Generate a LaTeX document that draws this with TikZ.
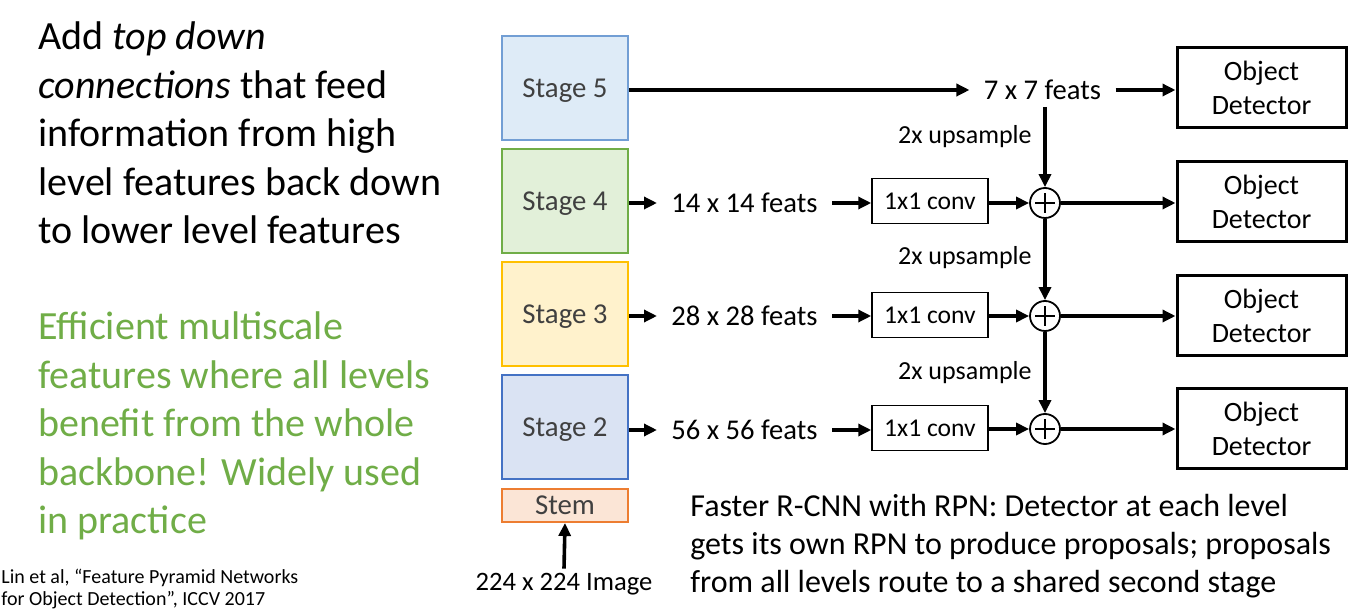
\documentclass[tikz,border=0pt]{standalone}
\usepackage{fontspec}
\setmainfont{Carlito}
\usepackage{tikz}
\usetikzlibrary{arrows.meta}
\definecolor{fpnfivefill}{RGB}{222,235,247}
\definecolor{fpnfiveline}{RGB}{114,158,212}
\definecolor{fpnfourfill}{RGB}{226,240,217}
\definecolor{fpnfourline}{RGB}{112,173,71}
\definecolor{fpnthreefill}{RGB}{255,242,204}
\definecolor{fpnthreeline}{RGB}{255,192,0}
\definecolor{fpntwofill}{RGB}{218,227,243}
\definecolor{fpntwoline}{RGB}{68,114,196}
\definecolor{fpnstemfill}{RGB}{251,229,214}
\definecolor{fpnstemline}{RGB}{237,125,49}
\definecolor{fpngray}{RGB}{64,64,64}
\definecolor{fpngreen}{RGB}{112,173,71}

\begin{document}
\begin{tikzpicture}[x=0.5pt,y=-0.5pt,>={Triangle[length=6.5pt,width=6pt]},
    stagebox/.style={draw,line width=1pt,minimum width=63pt,minimum height=52pt,inner sep=0pt,text depth=0pt,text=fpngray,font=\fontsize{14.4}{17}\selectfont},
    detbox/.style={draw,line width=1.5pt,minimum width=84.5pt,minimum height=40pt,inner sep=0pt,align=center,font=\fontsize{14}{17}\selectfont},
    convbox/.style={draw,line width=0.75pt,minimum width=58pt,minimum height=22.5pt,inner sep=0pt,font=\fontsize{12.8}{15}\selectfont},
    sumnode/.style={circle,draw,line width=0.9pt,minimum size=15pt,inner sep=0pt,
        path picture={\draw[line width=1.4pt] (path picture bounding box.center) ++(-5pt,0) -- ++(10pt,0);
                      \draw[line width=1.4pt] (path picture bounding box.center) ++(0,-5pt) -- ++(0,10pt);}},
    feat/.style={inner xsep=7pt,font=\fontsize{14.3}{17}\selectfont},
    lbl/.style={inner sep=0pt,font=\fontsize{13}{15}\selectfont},
    flow/.style={->,line width=1.8pt}]
    \useasboundingbox (0,0) rectangle (1366,614);

    % Notes on the left
    \node[anchor=west,align=left,inner sep=0pt,font=\fontsize{20}{24.25}\selectfont] (intro) at (38,133)
        {Add \textit{top down}\\\textit{connections} that feed\\information from high\\level features back down\\to lower level features};
    \node[anchor=west,align=left,inner sep=0pt,text=fpngreen,font=\fontsize{20}{24.25}\selectfont] (gain) at (38,426)
        {Efficient multiscale\\features where all levels\\benefit from the whole\\backbone! Widely used\\in practice};
    \node[anchor=west,align=left,inner sep=0pt,font=\fontsize{10}{11}\selectfont] (cite) at (1,589)
        {Lin et al, “Feature Pyramid Networks\\for Object Detection”, ICCV 2017};

    % Backbone
    \node[stagebox,fill=fpnfivefill,draw=fpnfiveline] (s5) at (565,88) {Stage 5};
    \node[stagebox,fill=fpnfourfill,draw=fpnfourline] (s4) at (565,201) {Stage 4};
    \node[stagebox,fill=fpnthreefill,draw=fpnthreeline] (s3) at (565,314) {Stage 3};
    \node[stagebox,fill=fpntwofill,draw=fpntwoline] (s2) at (565,427) {Stage 2};
    \node[stagebox,fill=fpnstemfill,draw=fpnstemline,minimum height=16.5pt] (stem) at (565,505.5) {Stem};
    \node[lbl,font=\fontsize{13.3}{16}\selectfont] (img) at (564,584) {224 x 224 Image};
    \draw[flow] (img.north) ++(0,-4) -- (stem.south);

    % Features
    \node[feat] (f5) at (1042.5,90) {7 x 7 feats};
    \node[feat] (f4) at (744.5,203) {14 x 14 feats};
    \node[feat] (f3) at (744.5,316) {28 x 28 feats};
    \node[feat] (f2) at (744.5,430) {56 x 56 feats};

    % Lateral convs and merges
    \node[convbox] (c4) at (930,201) {1x1 conv};
    \node[convbox] (c3) at (930,315) {1x1 conv};
    \node[convbox] (c2) at (930,428) {1x1 conv};
    \node[sumnode] (p4) at (1045,203) {};
    \node[sumnode] (p3) at (1045,316) {};
    \node[sumnode] (p2) at (1045,429) {};

    % Detectors
    \node[detbox] (d5) at (1261.5,88) {Object\\Detector};
    \node[detbox] (d4) at (1261.5,202) {Object\\Detector};
    \node[detbox] (d3) at (1261.5,316) {Object\\Detector};
    \node[detbox] (d2) at (1261.5,429) {Object\\Detector};

    % Connections
    \draw[flow] (s5.east |- f5.west) -- (f5.west);
    \draw[flow] (f5.east) -- (d5.west |- f5.east);
    \foreach \k in {4,3,2} {
        \draw[flow] (s\k.east |- f\k.west) -- (f\k.west);
        \draw[flow] (f\k.east) -- (c\k.west |- f\k.east);
        \draw[flow] (c\k.east |- p\k.west) -- (p\k.west);
        \draw[flow] (p\k.east) -- (d\k.west |- p\k.east);
    }
    \draw[flow] (p4.north |- f5.south) -- (p4.north);
    \draw[flow] (p4.south) -- (p3.north);
    \draw[flow] (p3.south) -- (p2.north);
    \node[lbl,anchor=east] (u4) at (1032,137) {2x upsample};
    \node[lbl,anchor=east] (u3) at (1032,258) {2x upsample};
    \node[lbl,anchor=east] (u2) at (1032,373) {2x upsample};

    % Note on the detector
    \node[anchor=west,align=left,inner sep=0pt,font=\fontsize{16}{19}\selectfont] (note) at (690,546)
        {Faster R-CNN with RPN: Detector at each level\\gets its own RPN to produce proposals; proposals\\from all levels route to a shared second stage};
\end{tikzpicture}
\end{document}
